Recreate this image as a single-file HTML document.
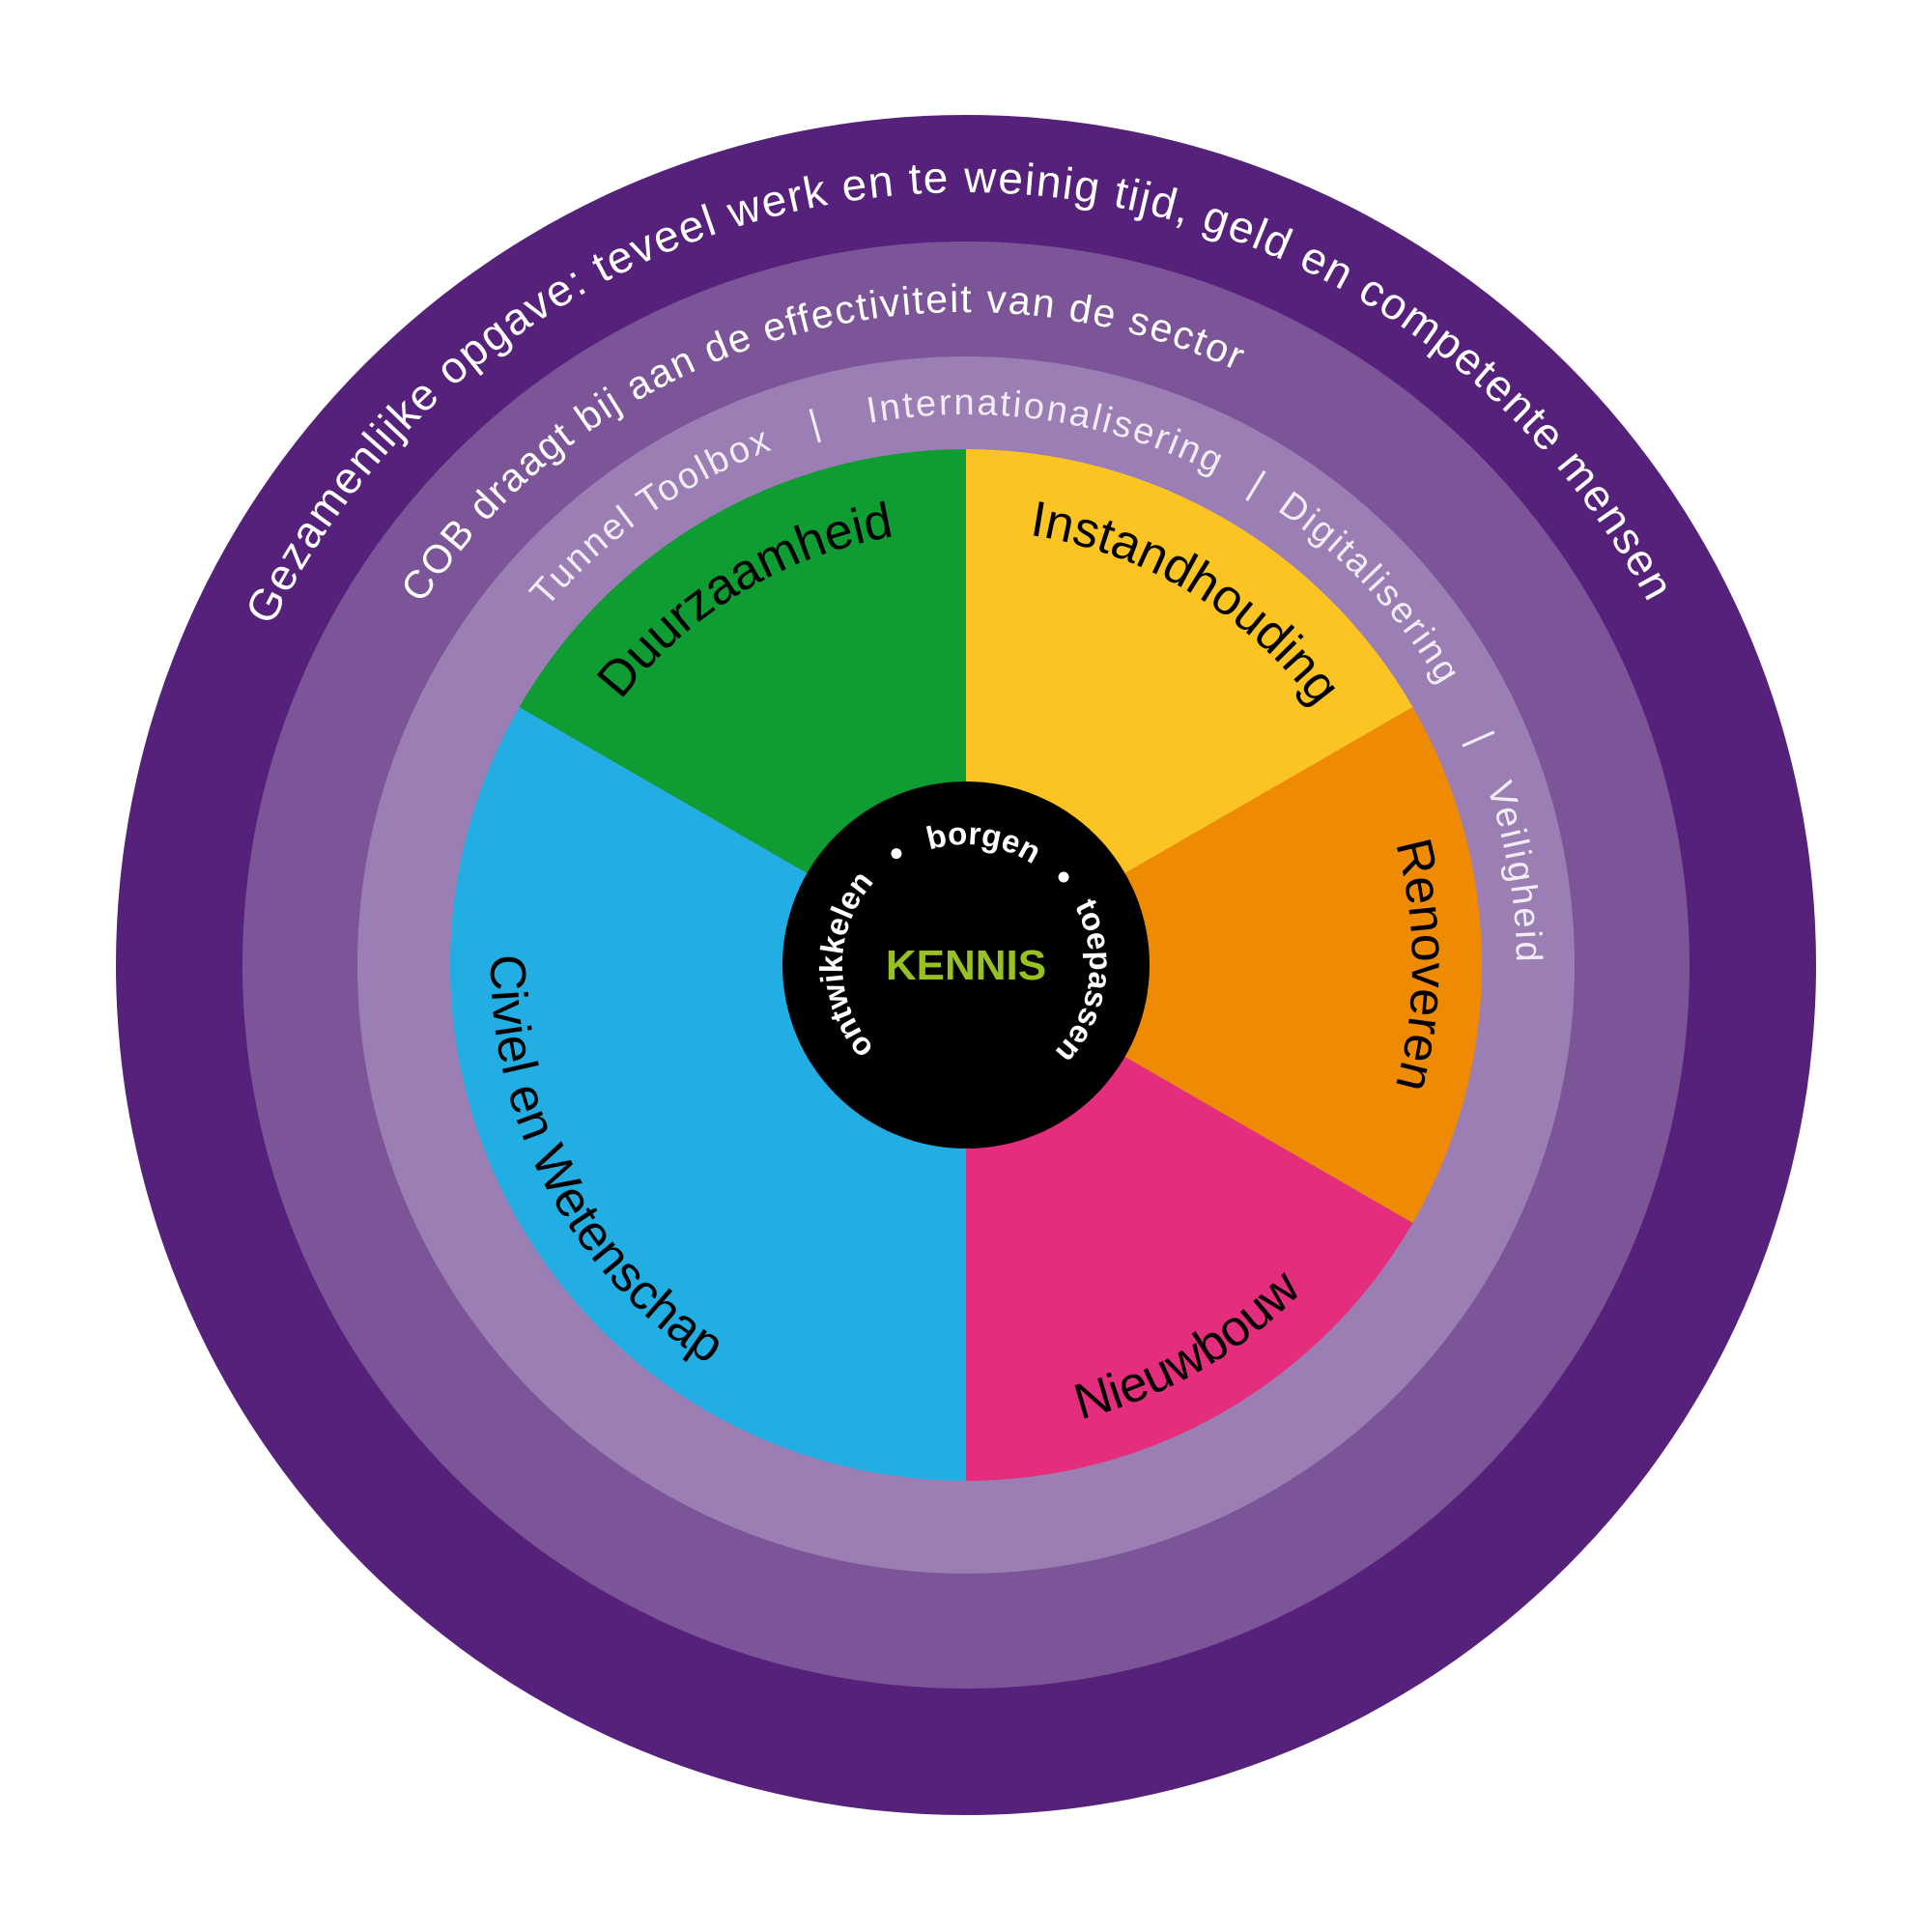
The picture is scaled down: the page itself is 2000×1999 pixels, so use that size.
<!DOCTYPE html>
<html><head><meta charset="utf-8"><style>
html,body{margin:0;padding:0;background:#fff;}
svg{display:block;}
text{font-family:"Liberation Sans","DejaVu Sans",sans-serif;}
</style></head><body>
<svg id="s" width="2000" height="1999" viewBox="0 0 2000 1999" xmlns="http://www.w3.org/2000/svg">
<defs>
<path id="p1"/><path id="p2"/><path id="p3"/>
<path id="q1"/><path id="q2"/><path id="q3"/><path id="q4"/><path id="q5"/>
<path id="c1"/><path id="c2"/><path id="c3"/>
</defs>
<circle cx="1000" cy="999" r="880" fill="#55217a"/>
<circle cx="1000" cy="999" r="749" fill="#7b5598"/>
<circle cx="1000" cy="999" r="630" fill="#9b7fb4"/>
<path id="sy" fill="#fbc422"/><path id="so" fill="#ef8a03"/><path id="sp" fill="#e52d7d"/><path id="sb" fill="#22aee2"/><path id="sg" fill="#0e9c33"/>
<circle cx="1000" cy="999" r="190" fill="#000"/>

<text font-size="46" fill="#fff"><textPath href="#p1" startOffset="50%" text-anchor="middle" textLength="1760" lengthAdjust="spacing">Gezamenlijke opgave: teveel werk en te weinig tijd, geld en competente mensen</textPath></text>
<text font-size="41" fill="#fff"><textPath href="#p2" startOffset="50%" text-anchor="middle" textLength="955" lengthAdjust="spacing">COB draagt bij aan de effectiviteit van de sector</textPath></text>
<g font-size="38" fill="#f2ecf7" letter-spacing="2.5">
<text><textPath href="#p3" startOffset="15.28%" text-anchor="middle">Tunnel Toolbox</textPath></text>
<text><textPath href="#p3" startOffset="20.69%" text-anchor="middle">|</textPath></text>
<text><textPath href="#p3" startOffset="27.36%" text-anchor="middle">Internationalisering</textPath></text>
<text><textPath href="#p3" startOffset="33.69%" text-anchor="middle">|</textPath></text>
<text><textPath href="#p3" startOffset="38.06%" text-anchor="middle">Digitalisering</textPath></text>
<text><textPath href="#p3" startOffset="43.42%" text-anchor="middle">|</textPath></text>
<text><textPath href="#p3" startOffset="47.36%" text-anchor="middle">Veiligheid</textPath></text>
</g>

<text font-size="52" fill="#000"><textPath href="#q1" startOffset="50%" text-anchor="middle">Duurzaamheid</textPath></text>
<text font-size="52" fill="#000"><textPath href="#q2" startOffset="50%" text-anchor="middle">Instandhouding</textPath></text>
<text font-size="52" fill="#000"><textPath href="#q3" startOffset="50%" text-anchor="middle">Renoveren</textPath></text>
<text font-size="52" fill="#000"><textPath href="#q4" startOffset="50%" text-anchor="middle">Nieuwbouw</textPath></text>
<text font-size="52" fill="#000"><textPath href="#q5" startOffset="50%" text-anchor="middle">Civiel en Wetenschap</textPath></text>

<text x="1000" y="1014" font-size="44" font-weight="bold" fill="#96c11f" text-anchor="middle">KENNIS</text>
<text font-size="33" font-weight="bold" fill="#fff"><textPath href="#c1" startOffset="50%" text-anchor="middle">borgen</textPath></text>
<text font-size="33" font-weight="bold" fill="#fff"><textPath href="#c2" startOffset="50%" text-anchor="middle">toepassen</textPath></text>
<text font-size="33" font-weight="bold" fill="#fff"><textPath href="#c3" startOffset="50%" text-anchor="middle">ontwikkelen</textPath></text>
<circle id="d1" r="5.5" fill="#fff"/><circle id="d2" r="5.5" fill="#fff"/>
</svg>
<script>
var cx=1000,cy=999;
function P(a,r){a=a*Math.PI/180;return [cx+r*Math.cos(a),cy+r*Math.sin(a)];}
function circ(id,mid,r,cw){
 var s=P(mid+180,r),m=P(mid,r),f=cw?1:0;
 document.getElementById(id).setAttribute('d','M'+s[0]+' '+s[1]+' A'+r+' '+r+' 0 0 '+f+' '+m[0]+' '+m[1]+' A'+r+' '+r+' 0 0 '+f+' '+s[0]+' '+s[1]);
}
function sect(id,a0,a1,r){
 var s=P(a0,r),e=P(a1,r),l=(a1-a0)>180?1:0;
 document.getElementById(id).setAttribute('d','M'+cx+' '+cy+' L'+s[0]+' '+s[1]+' A'+r+' '+r+' 0 '+l+' 1 '+e[0]+' '+e[1]+' Z');
}
var R=534;
sect('sy',-90,-30,R);sect('so',-30,30,R);sect('sp',30,90,R);sect('sb',90,210,R);sect('sg',210,270,R);
circ('p1',-91,800,1);circ('p2',-106,676,1);circ('p3',0,570,1);
circ('q1',-121,450,1);circ('q2',-59,450,1);circ('q3',0,462,1);
circ('q4',60,485,0);circ('q5',152,492,0);
circ('c1',-82,125,1);circ('c2',8,128,1);circ('c3',180,128,1);
var d=P(-122,136);document.getElementById('d1').setAttribute('cx',d[0]);document.getElementById('d1').setAttribute('cy',d[1]);
d=P(-42,136);document.getElementById('d2').setAttribute('cx',d[0]);document.getElementById('d2').setAttribute('cy',d[1]);
</script>
</body></html>
